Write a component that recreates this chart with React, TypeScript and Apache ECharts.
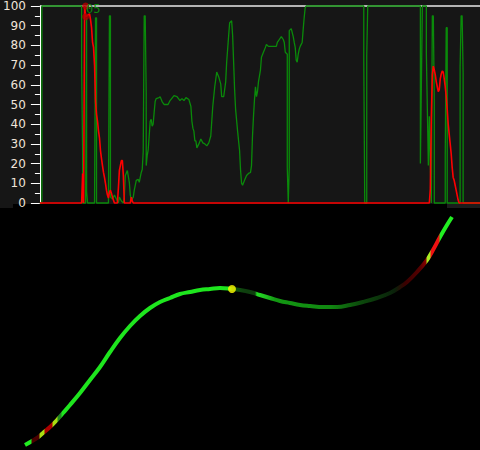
import React, { useEffect, useRef } from "react";
import * as echarts from "echarts";

// Top panel: sample index t, value 0..100
const yTicks = [0, 10, 20, 30, 40, 50, 60, 70, 80, 90, 100];
const topLine: [number, number][] = [[0, 100], [443, 100]];

const greenTrace: [number, number][] = [
  [0, 0], [2, 0], [2, 100], [42, 100], [42, 70], [43, 26], [43, 0],
  [46, 0], [47, 94], [47, 6], [48, 0],
  [55, 0], [56, 94], [57, 94], [57, 0],
  [69, 0], [70, 95], [71, 95], [71, 3],
  [73, 2], [75, 4], [77, 2], [79, 0], [80, 3], [82, 1], [84, 0], [85, 3],
  [86, 14], [88, 16.5], [90, 10.5], [91, 4], [92, 1.5], [94, 3], [95, 6.5], [97, 11.5], [99, 12], [100, 10.5], [102, 15.5], [103, 17], [104, 26],
  [105, 95], [106, 95], [107, 56], [107, 19], [108, 24], [109, 27], [110, 34], [111, 41.5], [112, 42.5], [113, 39], [114, 40], [115, 46], [116, 51.5], [117, 53], [120, 53.5], [121, 54], [123, 51.5], [125, 50], [129, 50], [131, 52], [135, 54.5], [138, 54], [141, 52], [143, 53], [145, 52], [147, 53.5], [150, 52.5], [152, 49], [153, 41.5], [154, 38], [155, 36.5], [156, 31.5], [157, 31.5], [158, 28], [160, 30], [162, 32.5], [164, 30.5], [166, 30], [168, 29], [170, 30.5], [172, 34], [174, 49], [176, 59], [178, 66.5], [180, 64], [182, 60.5], [183, 54], [185, 54], [187, 61.5], [188, 71.5], [190, 85], [191, 91.5], [193, 92.5], [194, 85], [195, 71.5], [196, 57.5], [197, 47.5], [199, 36.5], [201, 26.5], [202, 16.5], [203, 10], [204, 9], [206, 11.5], [208, 14], [210, 15], [212, 15.5], [213, 19], [214, 34], [215, 44], [216, 52.5], [217, 59], [218, 54], [219, 56.5], [220, 61.5], [222, 67.5], [223, 74], [225, 76.5], [227, 79], [228, 80.5], [230, 79.5], [238, 79.5], [239, 81.5], [241, 83], [243, 84.5], [245, 83], [246, 81.5], [247, 76.5], [249, 75.5], [249, 18], [250, 0], [251, 18], [251, 87.5], [253, 88.5], [254, 86.5], [255, 84.5], [256, 81.5], [257, 79], [258, 72.5], [259, 71.5], [260, 75.5], [261, 78], [262, 79.5], [263, 80.5], [264, 81.5], [265, 88], [266, 94], [267, 99], [268, 100],
  [326, 100], [326, 73], [327, 0], [329, 0], [329, 75], [330, 100],
  [383, 100], [383, 20], [384, 60], [385, 100], [389, 100], [389, 76], [391, 19], [392, 44], [393, 19], [394, 0], [395, 95], [396, 95], [397, 51], [397, 0],
  [408, 0], [408, 24], [409, 89], [410, 89], [410, 0], [423, 0], [423, 69], [424, 95], [425, 95], [426, 66], [426, 0], [443, 0],
];

const redTrace: [number, number][] = [
  [0, 0], [42, 0], [43, 15], [44, 0], [45, 100], [46, 94.5], [50, 96], [51, 93], [52, 89], [53, 81.5], [54, 79], [55, 70], [56, 51.5], [57, 45], [58, 41.5], [59, 36.5], [60, 33], [61, 26.5], [62, 22.5], [63, 19], [64, 15.5], [65, 13], [66, 10], [67, 6.5], [68, 4], [69, 2.5], [70, 5.5], [71, 6.5], [72, 5], [73, 3], [74, 1.5], [75, 0],
  [78, 0], [79, 7.5], [80, 16.5], [81, 19], [82, 21.5], [83, 21.5], [84, 14], [85, 0], [91, 0], [92, 3], [93, 1], [94, 0],
  [392, 0], [393, 7], [394, 43], [395, 65], [396, 69.5], [397, 67.5], [398, 65], [399, 61.5], [400, 59], [401, 56.5], [402, 57.5], [403, 63], [404, 65.5], [405, 67], [406, 66.5], [407, 63], [408, 59], [409, 54], [410, 47.5], [411, 40], [412, 35], [413, 30], [414, 25], [415, 18], [416, 13], [417, 11.5], [418, 9], [419, 6.5], [420, 4], [421, 1.5], [422, 0], [443, 0],
];

const redMarkers: [number, number][] = [[46, 100], [46, 94.5]];
const topLabel = "05";

// Bottom panel: curve
const curveX = [0, 12, 18, 25, 32, 38, 45, 55, 65, 75, 85, 95, 105, 115, 125, 135, 145, 155, 165, 175, 185, 195, 207, 215, 225, 235, 245, 255, 265, 275, 285, 298, 312, 325, 338, 352, 365, 375, 382, 392, 402, 408, 415, 422, 427];
const curveY = [1, 8, 13, 19, 26, 33, 41, 53, 66, 79, 94, 108, 120, 130, 138, 144, 148, 152, 154, 156, 157, 158, 157, 156, 154, 151, 148, 145, 143, 141, 140, 139, 139, 141, 144, 148, 153, 159, 164, 174, 186, 196, 209, 221, 229];
const peakPoint: [number, number] = [207, 157];

export default function App() {
  const ref = useRef<HTMLDivElement>(null);
  useEffect(() => {
    if (!ref.current) return;
    const chart = echarts.init(ref.current, undefined, { renderer: "svg" });
    const x0 = 25, x1 = 452;
    const st = (px: number, color: string) => ({ offset: (px - x0) / (x1 - x0), color });
    const curveGradient = new echarts.graphic.LinearGradient(0, 0, 1, 0, [
      st(25, "#22ee22"), st(31, "#22ee22"), st(32, "#4a0000"), st(39, "#4a0000"),
      st(40, "#aadd11"), st(44, "#aadd11"), st(45, "#aa0000"), st(52, "#aa0000"),
      st(53, "#aadd11"), st(57, "#aadd11"), st(58, "#228822"), st(61, "#228822"),
      st(62, "#1ee61e"), st(229, "#1ee61e"), st(232, "#0c5a0c"), st(245, "#0e3e0e"),
      st(255, "#0e3e0e"), st(257, "#22dd22"), st(266, "#20c020"), st(275, "#139813"),
      st(330, "#118811"), st(360, "#0c4a0c"), st(395, "#0a200a"), st(405, "#3a0000"),
      st(420, "#550000"), st(426, "#880000"), st(427, "#aaee22"), st(430, "#aaee22"),
      st(431, "#ee1111"), st(439, "#ee1111"), st(440, "#22ee22"), st(452, "#22ee22"),
    ]);
    chart.setOption({
      animation: false,
      backgroundColor: "#000000",
      graphic: [
        { type: "rect", shape: { x: 0, y: 0, width: 480, height: 204 }, style: { fill: "#161616" }, z: -10, silent: true },
        { type: "rect", shape: { x: 0, y: 203, width: 13, height: 5 }, style: { fill: "#161616" }, z: -10, silent: true },
        { type: "rect", shape: { x: 447, y: 203, width: 33, height: 5 }, style: { fill: "#1c1c1c" }, z: -10, silent: true },
        { type: "text", x: 86, y: 3, style: { text: topLabel, fill: "#0c8a0c", font: "12px 'DejaVu Sans Mono'" }, z: 10 },
      ],
      grid: [
        { left: 37, top: 3, width: 443, height: 200 },
        { left: 25, top: 215, width: 427, height: 231 },
      ],
      xAxis: [
        { type: "value", gridIndex: 0, min: 0, max: 443, show: false },
        { type: "value", gridIndex: 1, min: 0, max: 427, show: false },
      ],
      yAxis: [
        {
          type: "value", gridIndex: 0, min: 0, max: 100, interval: 10,
          axisLine: { show: true, lineStyle: { color: "#ffffff", width: 1 } },
          axisTick: { show: true, length: 9, lineStyle: { color: "#ffffff", width: 1 } },
          minorTick: { show: true, splitNumber: 2, length: 5, lineStyle: { color: "#ffffff", width: 1 } },
          splitLine: { show: false },
          axisLabel: {
            color: "#f0e4d8", fontSize: 12, fontFamily: "DejaVu Sans", margin: 14,
            formatter: (v: number) => (yTicks.includes(v) ? String(v) : ""),
          },
        },
        { type: "value", gridIndex: 1, min: 0, max: 231, show: false },
      ],
      series: [
        {
          type: "line", xAxisIndex: 0, yAxisIndex: 0, data: topLine, symbol: "none",
          lineStyle: { color: "#e8e8e8", width: 1.5 }, clip: false, z: 1,
        },
        {
          type: "line", xAxisIndex: 0, yAxisIndex: 0, data: greenTrace, symbol: "none",
          lineStyle: { color: "#0a8a0a", width: 1.3 }, clip: false, z: 2,
        },
        {
          type: "line", xAxisIndex: 0, yAxisIndex: 0, data: redTrace, symbol: "none",
          lineStyle: { color: "#ff0000", width: 1.6 }, clip: false, z: 3,
        },
        {
          type: "scatter", xAxisIndex: 0, yAxisIndex: 0, data: redMarkers, symbol: "circle",
          symbolSize: 7, itemStyle: { color: "#b00000" }, z: 4,
        },
        {
          type: "line", xAxisIndex: 1, yAxisIndex: 1,
          data: curveX.map((x, i) => [x, curveY[i]]),
          symbol: "none", smooth: 0.4, clip: false,
          lineStyle: { color: curveGradient, width: 4 }, z: 2,
        },
        {
          type: "scatter", xAxisIndex: 1, yAxisIndex: 1, data: [peakPoint],
          symbol: "circle", symbolSize: 8, itemStyle: { color: "#ffff00" }, z: 5,
        },
      ],
    });
    return () => chart.dispose();
  }, []);
  return (
    <div
      ref={ref}
      style={{ position: "fixed", left: 0, top: 0, width: 480, height: 450 }}
    />
  );
}
